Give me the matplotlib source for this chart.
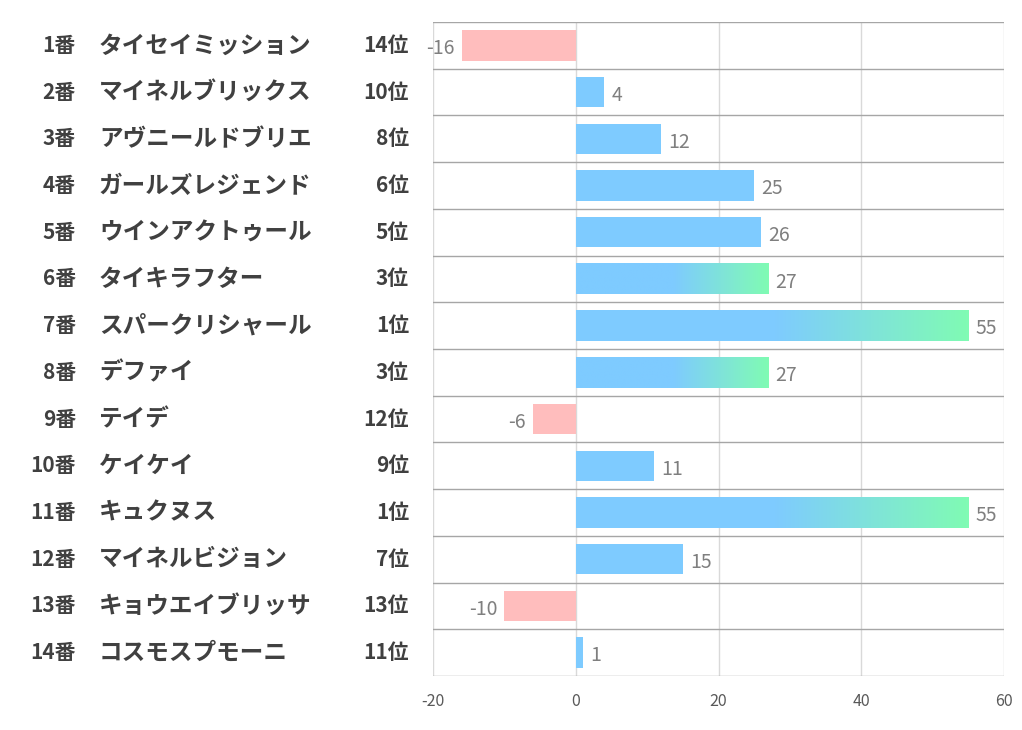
import numpy as np
import matplotlib
matplotlib.use('Agg')
import matplotlib.pyplot as plt
import matplotlib.transforms as mtrans
from matplotlib.colors import LinearSegmentedColormap

plt.rcParams['font.family'] = ['Noto Sans CJK JP', 'DejaVu Sans']
plt.rcParams['axes.unicode_minus'] = False

# ── データ ──────────────────────────────────────────────
numbers = ['1番', '2番', '3番', '4番', '5番', '6番', '7番',
           '8番', '9番', '10番', '11番', '12番', '13番', '14番']
names = ['タイセイミッション', 'マイネルブリックス', 'アヴニールドブリエ', 'ガールズレジェンド',
         'ウインアクトゥール', 'タイキラフター', 'スパークリシャール', 'デファイ', 'テイデ',
         'ケイケイ', 'キュクヌス', 'マイネルビジョン', 'キョウエイブリッサ', 'コスモスプモーニ']
ranks = [14, 10, 8, 6, 5, 3, 1, 3, 12, 9, 1, 7, 13, 11]
values = [-16, 4, 12, 25, 26, 27, 55, 27, -6, 11, 55, 15, -10, 1]
xticks = [-20, 0, 20, 40, 60]

BLUE = '#7ecbff'
GREEN = '#80fbb4'
PINK = '#ffbdbd'
TXT = '#404040'
GREY = '#7f7f7f'

W, H = 1022, 730
fig = plt.figure(figsize=(W / 100, H / 100), dpi=100)
ax = fig.add_axes([433 / W, 1 - 676 / H, (1004 - 433) / W, (676 - 22) / H])

n = len(values)
ypos = np.arange(n) + 0.5
bh = 0.65
cmap = LinearSegmentedColormap.from_list('bg', [BLUE, GREEN])
grad = np.concatenate([np.zeros(50), np.linspace(0, 1, 50)]).reshape(1, -1)

for y, v, r in zip(ypos, values, ranks):
    if v < 0:
        ax.barh(y, v, height=bh, color=PINK, zorder=2)
        ax.text(v - 1.0, y + 0.07, str(v), ha='right', va='center',
                fontsize=14, color=GREY, zorder=3)
    else:
        if r <= 3:
            ax.imshow(grad, cmap=cmap, aspect='auto', interpolation='bilinear',
                      extent=[0, v, y + bh / 2, y - bh / 2], zorder=2)
        else:
            ax.barh(y, v, height=bh, color=BLUE, zorder=2)
        ax.text(v + 1.0, y + 0.07, str(v), ha='left', va='center',
                fontsize=14, color=GREY, zorder=3)

ax.set_xlim(-20, 60)
ax.set_ylim(n, 0)
ax.set_xticks(xticks)
ax.set_yticks([])
ax.tick_params(axis='x', length=0, labelsize=11.5, labelcolor='#595959', pad=12)
for s in ax.spines.values():
    s.set_visible(False)
for x in xticks:
    ax.axvline(x, color='#d9d9d9', lw=1, zorder=1)
for k in range(n + 1):
    ax.axhline(k, color='#a6a6a6', lw=1, zorder=1)

# 左側のラベル列
tr = mtrans.blended_transform_factory(fig.transFigure, ax.transData)
for y, num, name, r in zip(ypos, numbers, names, ranks):
    ax.text(76 / W, y, num, transform=tr, ha='right', va='center',
            fontsize=15, fontweight='bold', color=TXT)
    ax.text(99 / W, y, name, transform=tr, ha='left', va='center',
            fontsize=17, fontweight='bold', color=TXT)
    ax.text(409 / W, y, f'{r}位', transform=tr, ha='right', va='center',
            fontsize=15, fontweight='bold', color=TXT)

fig.savefig('out.png', dpi=100)
